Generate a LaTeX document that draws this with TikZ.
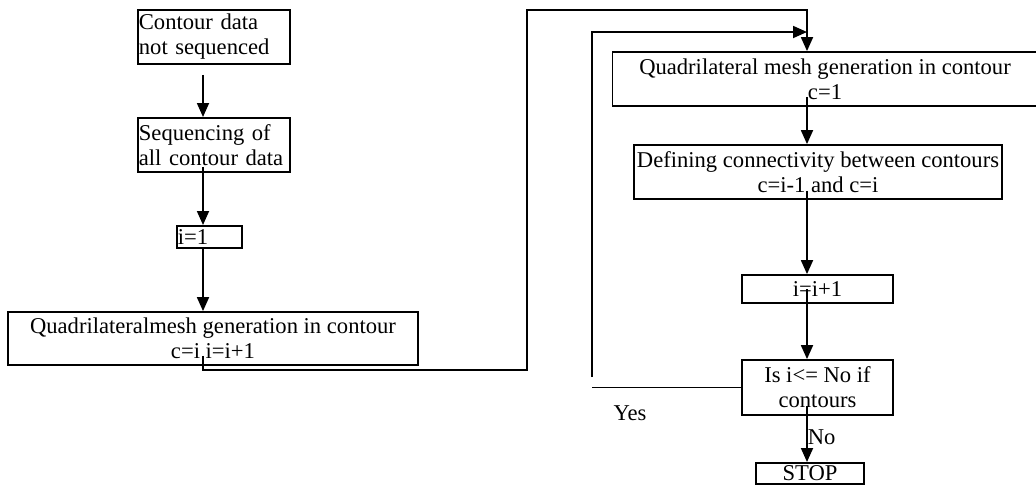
\documentclass[tikz,border=0pt]{standalone}
\usepackage{fontspec}
\setmainfont{Liberation Serif}
\usetikzlibrary{arrows.meta,calc}
\begin{document}
\begin{tikzpicture}[x=1pt,y=-1pt,
    box/.style={draw, line width=1.8pt, inner sep=1pt, font=\fontsize{22.6}{25}\selectfont},
    lbox/.style={box, align=left, anchor=north west},
    cbox/.style={box, align=center},
    arr/.style={line width=1.8pt, -{Triangle[length=14pt,width=12pt]}},
    line/.style={line width=1.8pt},
    lbl/.style={font=\fontsize{22.6}{25}\selectfont}]

        \useasboundingbox (0,0) rectangle (1036,485);
        \clip (0,0) rectangle (1036,485);

        % left column
        \node[lbox, text width=150pt, minimum height=54pt] (raw) at (137,9) {Contour data\\not sequenced};
        \node[lbox, text width=150pt, minimum height=54pt] (sorted) at (137,117) {Sequencing of\\all contour data};
        \node[lbox, text width=63pt, minimum height=22pt] (start) at (176,225) {i=1};
        \node[cbox, minimum width=410pt, minimum height=53pt] (meshi) at (213,338.5) {Quadrilateralmesh generation in contour\\c=i i=i+1};

        % right column
        \node[cbox, minimum width=425pt, minimum height=54pt] (mesh1) at (825,79) {Quadrilateral mesh generation in contour\\c=1};
        \node[cbox, minimum width=368pt, minimum height=54pt] (link) at (818,172) {Defining connectivity between contours\\c=i-1 and c=i};
        \node[cbox, minimum width=151pt, minimum height=28pt] (incr) at (817.5,289) {i=i+1};
        \node[cbox, minimum width=151pt, minimum height=55pt] (test) at (817.5,387.5) {Is i<= No if\\contours};
        \node[cbox, minimum width=108pt, minimum height=21pt, inner sep=0pt, anchor=north] (stop) at (810,462) {STOP};
        \node[lbl] (yeslbl) at (630,413) {Yes};

        \coordinate (lx) at (203,0);
        \coordinate (rx) at (807,0);
        \coordinate (bend) at (527,370);
        \coordinate (top) at (527,10);
        \coordinate (back) at (592,377);
        \coordinate (entry) at (807,32);

        \draw[arr] ($(raw.south -| lx)+(0,10)$) -- (sorted.north -| lx);
        \draw[arr] ($(sorted.south -| lx)+(0,-6)$) -- (start.north -| lx);
        \draw[arr] (start.south -| lx) -- (meshi.north -| lx);
        \draw[arr] ($(meshi.south -| lx)+(0,-10)$) |- (bend) -- (top) -| (mesh1.north -| rx);

        \draw[arr] ($(mesh1.south -| rx)+(0,-10)$) -- (link.north -| rx);
        \draw[arr] ($(link.south -| rx)+(0,-9)$) -- (incr.north -| rx);
        \draw[arr] (incr.center -| rx) -- (test.north -| rx);
        \draw[arr] ($(test.south -| rx)+(0,-10)$) -- node[lbl, right, pos=0.55, inner sep=0pt] {No} (stop.north -| rx);

        \draw[line] (test.west) -- (test.west -| back);
        \draw[arr] (back) |- (entry);

      \end{tikzpicture}
\end{document}
